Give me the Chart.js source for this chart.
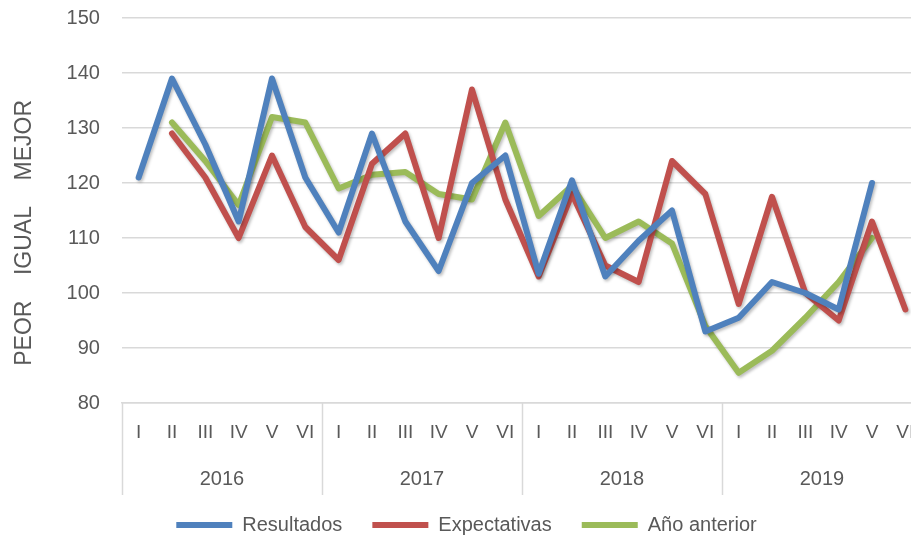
<!DOCTYPE html>
<html>
<head>
<meta charset="utf-8">
<script src="https://cdn.jsdelivr.net/npm/chart.js@4.4.1/dist/chart.umd.min.js"></script>
<style>
  html, body { margin: 0; padding: 0; background: #fff; overflow: hidden; }
  #wrap { width: 940px; height: 539px; }
</style>
</head>
<body>
<div id="wrap"><canvas id="chart" width="940" height="539"></canvas></div>
<script>
const years = ['2016', '2017', '2018', '2019'];
const periods = ['I', 'II', 'III', 'IV', 'V', 'VI'];

const resultados = [121, 139, 127, 113, 139, 121,
                    111, 129, 113, 104, 120, 125,
                    103.5, 120.5, 103, 109.5, 115, 93,
                    95.5, 102, 100, 97, 120, null];
const expectativas = [null, 129, 121, 110, 125, 112,
                      106, 123.5, 129, 110, 137, 117,
                      103, 118, 105, 102, 124, 118,
                      98, 117.5, 100, 95, 113, 97];
const anoAnterior = [null, 131, 124, 116, 132, 131,
                     119, 121.5, 122, 118, 117, 131,
                     114, 119.5, 110, 113, 109, 94,
                     85.5, 89.5, 95.5, 102, 110, null];

const labels = [];
years.forEach(y => periods.forEach(p => labels.push(p)));

const grey = '#595959';
const font = "'Liberation Sans', Arial, sans-serif";

// group separators under the axis (2016 | 2017 | ...)
const groupLines = {
    id: 'groupLines',
    afterDraw(chart) {
        const x = chart.scales.x;
        const ctx = chart.ctx;
        const step = x.getPixelForValue(1) - x.getPixelForValue(0);
        const top = chart.chartArea.bottom;
        ctx.save();
        ctx.strokeStyle = '#d9d9d9';
        ctx.lineWidth = 1.5;
        for (let g = 0; g <= years.length; g++) {
            const px = Math.round(x.getPixelForValue(g * periods.length) - step / 2) + 0.5;
            ctx.beginPath();
            ctx.moveTo(px, top);
            ctx.lineTo(px, top + 92);
            ctx.stroke();
        }
        ctx.restore();
    }
};

// keep the legend row short but with wide gaps between items
const legendFit = {
    id: 'legendFit',
    beforeLayout(chart) {
        const lg = chart.legend;
        if (!lg || lg._patched) return;
        lg._patched = true;
        const fit = lg.fit;
        lg.fit = function () { fit.call(this); this.height = 27; };
        const draw = lg.draw;
        lg.draw = function () {
            this.top -= 27;
            draw.apply(this, arguments);
            this.top += 27;
        };
    }
};

// light shadow under the lines
const lineShadow = {
    id: 'lineShadow',
    beforeDatasetDraw(chart) {
        const ctx = chart.ctx;
        ctx.save();
        ctx.shadowColor = 'rgba(0,0,0,0.25)';
        ctx.shadowBlur = 3;
        ctx.shadowOffsetX = 1.5;
        ctx.shadowOffsetY = 2;
    },
    afterDatasetDraw(chart) {
        chart.ctx.restore();
    }
};

function series(label, data, color) {
    return {
        label: label,
        data: data,
        borderColor: color,
        backgroundColor: color,
        borderWidth: 6,
        borderCapStyle: 'round',
        borderJoinStyle: 'round',
        pointRadius: 0,
        pointHoverRadius: 0,
        tension: 0,
        fill: false,
        spanGaps: false
    };
}

new Chart(document.getElementById('chart'), {
    type: 'line',
    data: {
        labels: labels,
        datasets: [
            series('Resultados', resultados, '#4f81bd'),
            series('Expectativas', expectativas, '#c0504d'),
            series('Año anterior', anoAnterior, '#9bbb59')
        ]
    },
    options: {
        responsive: false,
        animation: false,
        layout: { padding: { top: 18, right: 18, bottom: 0, left: 11 } },
        plugins: {
            tooltip: { enabled: false },
            legend: {
                position: 'bottom',
                labels: {
                    usePointStyle: true,
                    pointStyle: 'line',
                    pointStyleWidth: 56,
                    boxHeight: 8,
                    padding: 30,
                    color: grey,
                    font: { family: font, size: 20 }
                }
            }
        },
        scales: {
            y: {
                min: 80,
                max: 150,
                ticks: {
                    stepSize: 10,
                    padding: 22,
                    color: grey,
                    font: { family: font, size: 20 }
                },
                grid: { color: '#d9d9d9', lineWidth: 1.5, drawTicks: false },
                border: { display: false },
                title: {
                    display: true,
                    text: 'PEOR\u00a0\u00a0\u00a0\u00a0IGUAL\u00a0\u00a0\u00a0\u00a0MEJOR\u00a0\u00a0\u00a0\u00a0\u00a0\u00a0\u00a0',
                    color: grey,
                    font: { family: font, size: 23 },
                    padding: { top: 0, bottom: 6 }
                },
                afterFit: s => { s.paddingTop = 0; }
            },
            x: {
                offset: true,
                grid: { display: false, drawTicks: false },
                border: { display: true, color: '#d9d9d9', width: 1.5 },
                ticks: {
                    autoSkip: false,
                    maxRotation: 0,
                    padding: 18.5,
                    color: grey,
                    font: { family: font, size: 19 }
                },
                afterFit: s => { s.height = 58; }
            },
            x2: {
                type: 'category',
                labels: years,
                position: 'bottom',
                offset: true,
                grid: { display: false, drawTicks: false },
                border: { display: false },
                ticks: {
                    maxRotation: 0,
                    padding: 6,
                    color: grey,
                    font: { family: font, size: 20 }
                },
                afterFit: s => { s.height = 51; }
            }
        }
    },
    plugins: [groupLines, legendFit, lineShadow]
});
</script>
</body>
</html>
